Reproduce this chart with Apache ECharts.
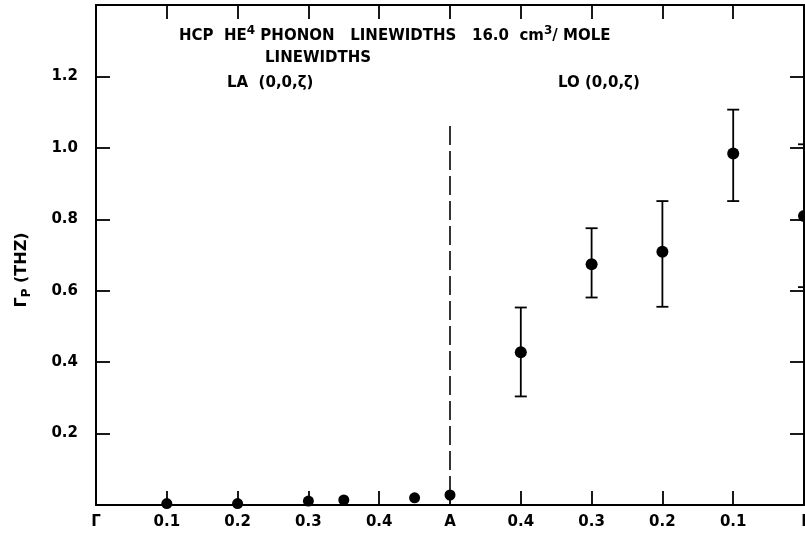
<!DOCTYPE html>
<html>
<head>
<meta charset="utf-8">
<title>HCP He4 phonon linewidths</title>
<script src="https://cdn.jsdelivr.net/npm/echarts@6/dist/echarts.min.js"></script>
<style>
  html, body { margin: 0; padding: 0; background: #fff; }
  #chart { width: 805px; height: 538px; }
</style>
</head>
<body>
<div id="chart"></div>
<script>
// tick labels along the folded path Γ -> A -> I
const tickLabels = ["Γ", "0.1", "0.2", "0.3", "0.4", "A", "0.4", "0.3", "0.2", "0.1", "I"];

// LA branch (0,0,ζ), ζ measured from Γ
const laZeta = [0.1, 0.2, 0.3, 0.35, 0.45, 0.5];
const laWidth = [0.004, 0.004, 0.011, 0.014, 0.02, 0.028];

// LO branch (0,0,ζ), ζ measured back from A to the zone centre
const loZeta = [0.4, 0.3, 0.2, 0.1, 0.0];
const loWidth = [0.428, 0.674, 0.709, 0.984, 0.809];
const loLow = [0.304, 0.581, 0.555, 0.851, 0.61];
const loHigh = [0.553, 0.775, 0.851, 1.107, 1.01];

// dashed line at the zone boundary A
const boundaryTop = 1.063;

const FONT = "DejaVu Sans";
const INK = "#000";

// ζ -> position on the unfolded axis (Γ=0, A=5, I=10)
function laPos(z) { return z * 10; }
function loPos(z) { return 10 - z * 10; }

function initChart() {
  const chart = echarts.init(document.getElementById("chart"), null, { renderer: "canvas" });

  const laData = laZeta.map((z, i) => [laPos(z), laWidth[i]]);
  const loData = loZeta.map((z, i) => [loPos(z), loWidth[i]]);
  const errData = loZeta.map((z, i) => [loPos(z), loLow[i], loHigh[i]]);
  const aPos = laPos(laZeta[laZeta.length - 1]);

  // shared look for the framed axes
  const lineStyle = { color: INK, width: 2 };
  const tickStyle = { show: true, inside: true, length: 14, lineStyle: { color: INK, width: 1.8 } };
  const textStyle = { fontFamily: FONT, fontSize: 15, fontWeight: "bold", color: INK };

  const option = {
    backgroundColor: "#fff",
    animation: false,
    title: [
      {
        text: "HCP  HE{sup|4} PHONON   LINEWIDTHS   16.0  cm{sup|3}/ MOLE",
        left: 174, top: 20,
        textStyle: Object.assign({}, textStyle, {
          rich: { sup: { fontFamily: FONT, fontSize: 12, fontWeight: "bold", color: INK, verticalAlign: "top", padding: [0, 0, 10, 0] } }
        })
      },
      { text: "LINEWIDTHS", left: 260, top: 46, textStyle: textStyle },
      { text: "LA  (0,0,ζ)", left: 222, top: 71, textStyle: textStyle },
      { text: "LO (0,0,ζ)", left: 553, top: 71, textStyle: textStyle }
    ],
    // y axis title, placed by hand so it sits lower than the grid middle like the original
    graphic: [
      {
        type: "text",
        x: 22, y: 270, rotation: Math.PI / 2,
        style: {
          text: "Γ{sub|P} (THZ)",
          fontFamily: FONT, fontSize: 16, fontWeight: "bold", fill: INK,
          align: "center", verticalAlign: "middle",
          rich: { sub: { fontFamily: FONT, fontSize: 12, fontWeight: "bold", fill: INK, verticalAlign: "bottom", padding: [9, 0, 0, 0] } }
        }
      }
    ],
    grid: { left: 96, right: 1, top: 5, bottom: 33, containLabel: false, outerBoundsMode: "none" },
    xAxis: [
      {
        type: "value", min: 0, max: 10, interval: 1, position: "bottom",
        axisLine: { show: true, onZero: false, lineStyle: lineStyle },
        axisTick: tickStyle,
        splitLine: { show: false },
        axisLabel: Object.assign({}, textStyle, {
          margin: 10,
          formatter: (v) => tickLabels[Math.round(v)]
        })
      },
      {
        type: "value", min: 0, max: 10, interval: 1, position: "top",
        axisLine: { show: true, onZero: false, lineStyle: lineStyle },
        axisTick: tickStyle,
        splitLine: { show: false },
        axisLabel: { show: false }
      }
    ],
    yAxis: [
      {
        type: "value", min: 0, max: 1.4, interval: 0.2, position: "left",
        axisLine: { show: true, onZero: false, lineStyle: lineStyle },
        axisTick: tickStyle,
        splitLine: { show: false },
        axisLabel: Object.assign({}, textStyle, {
          margin: 18,
          formatter: (v) => (v < 0.1 || v > 1.3 ? "" : v.toFixed(1))
        })
      },
      {
        type: "value", min: 0, max: 1.4, interval: 0.2, position: "right",
        axisLine: { show: true, onZero: false, lineStyle: lineStyle },
        axisTick: tickStyle,
        splitLine: { show: false },
        axisLabel: { show: false }
      }
    ],
    series: [
      {
        // zone boundary marker
        type: "line",
        data: [[aPos, laWidth[laWidth.length - 1]], [aPos, boundaryTop]],
        symbol: "none",
        lineStyle: { color: INK, width: 1.6, type: [19, 6] },
        z: 1
      },
      {
        // error bars for the LO points
        type: "custom",
        data: errData,
        renderItem: (params, api) => {
          const x = api.value(0);
          const lo = api.coord([x, api.value(1)]);
          const hi = api.coord([x, api.value(2)]);
          const cap = 6;
          const style = { stroke: INK, lineWidth: 1.8 };
          return {
            type: "group",
            children: [
              { type: "line", shape: { x1: lo[0], y1: lo[1], x2: hi[0], y2: hi[1] }, style: style },
              { type: "line", shape: { x1: lo[0] - cap, y1: lo[1], x2: lo[0] + cap, y2: lo[1] }, style: style },
              { type: "line", shape: { x1: hi[0] - cap, y1: hi[1], x2: hi[0] + cap, y2: hi[1] }, style: style }
            ]
          };
        },
        clip: false,
        z: 2
      },
      {
        name: "LA",
        type: "scatter",
        data: laData,
        symbol: "circle",
        symbolSize: 11,
        itemStyle: { color: INK, opacity: 1 },
        z: 3
      },
      {
        name: "LO",
        type: "scatter",
        data: loData,
        symbol: "circle",
        symbolSize: 12,
        itemStyle: { color: INK, opacity: 1 },
        clip: false,
        z: 3
      }
    ]
  };

  chart.setOption(option);
}

initChart();
</script>
</body>
</html>
